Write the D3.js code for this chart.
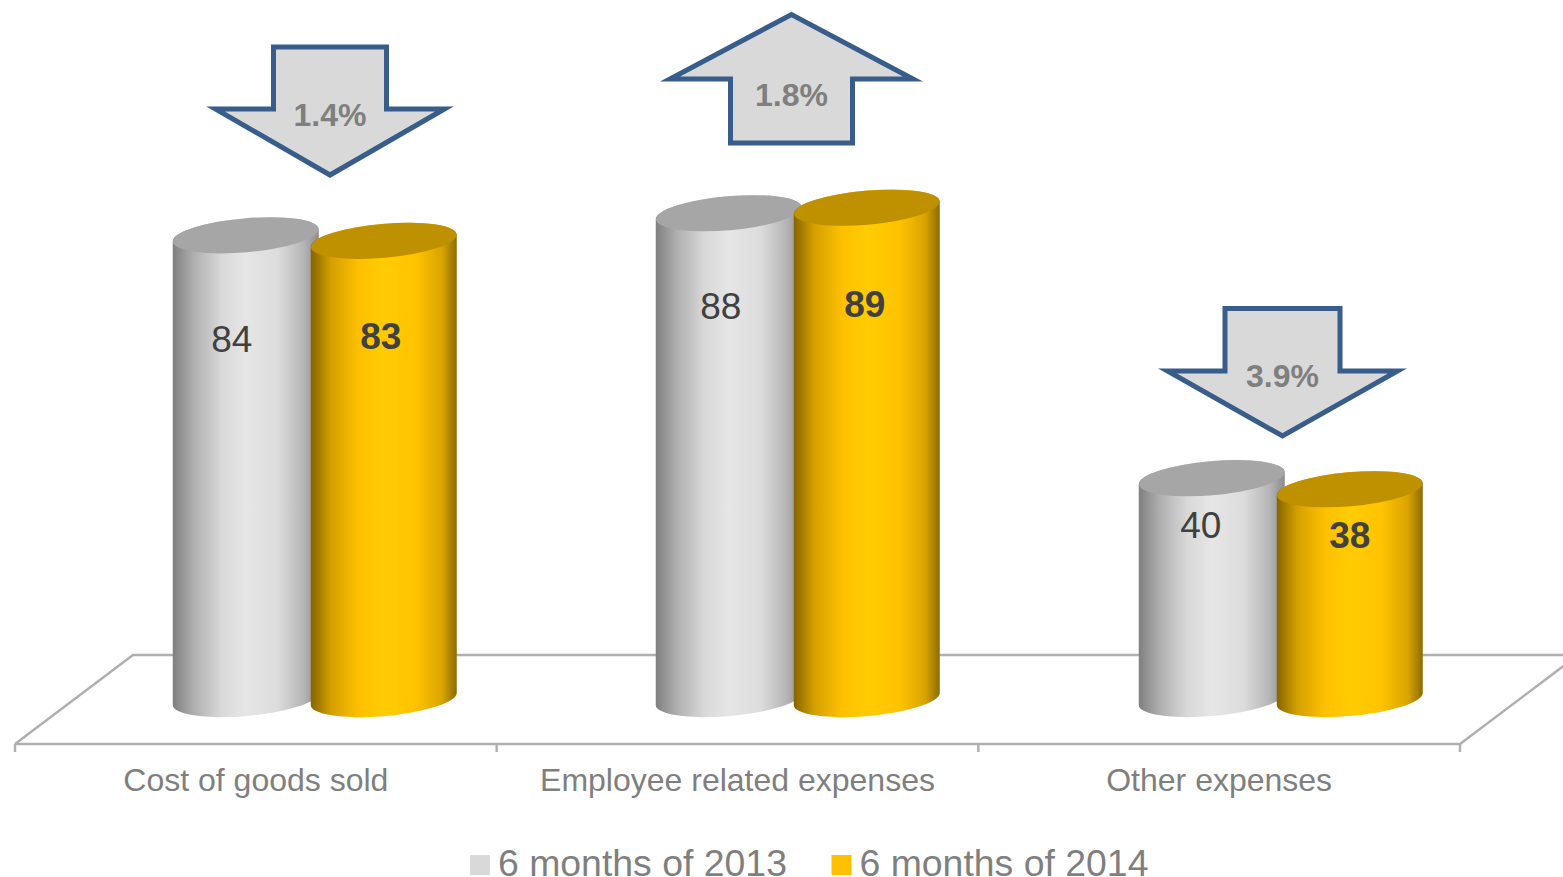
<!DOCTYPE html>
<html>
<head>
<meta charset="utf-8">
<style>
  html, body { margin: 0; padding: 0; background: #fff; overflow: hidden; }
  svg { display: block; font-family: "Liberation Sans", Arial, sans-serif; }
</style>
<script src="https://cdn.jsdelivr.net/npm/d3@7/dist/d3.min.js"></script>
</head>
<body>
<script>
// Expenses by category, first half of each year
const categories = ["Cost of goods sold", "Employee related expenses", "Other expenses"];
const seriesNames = ["6 months of 2013", "6 months of 2014"];
const values2013 = [84, 88, 40];
const values2014 = [83, 89, 38];
const changeLabels = ["1.4%", "1.8%", "3.9%"];
const changeDirections = ["down", "up", "down"];

const width = 1563, height = 877;
const svg = d3.select("body").append("svg").attr("width", width).attr("height", height);
const defs = svg.append("defs");

// Horizontal shading that gives each column its rounded look
const shading = [
  { id: "cyl2013", top: "#a6a6a6", stops: [[0, "#7f7f7f"], [.14, "#aeaeae"], [.33, "#d8d8d8"], [.5, "#e6e6e6"], [.72, "#dcdcdc"], [.9, "#b4b4b4"], [1, "#8c8c8c"]] },
  { id: "cyl2014", top: "#bf9000", stops: [[0, "#856500"], [.14, "#d4a000"], [.33, "#fec000"], [.5, "#ffcc00"], [.72, "#ffc300"], [.9, "#d9a400"], [1, "#8c6c00"]] }
];
shading.forEach(s => {
  const g = defs.append("linearGradient").attr("id", s.id).attr("x1", 0).attr("x2", 1).attr("y1", 0).attr("y2", 0);
  s.stops.forEach(([o, c]) => g.append("stop").attr("offset", o).attr("stop-color", c));
});

// Scales: the columns stand deeper in the plot than the floor's front edge
const x = d3.scaleBand().domain(categories).range([15, 1460]);
const xDeep = d3.scaleBand().domain(categories).range([73.25, 1522.25]);
const y = d3.scaleLinear().domain([0, 100]).range([699, 147]);

// Floor of the 3D plot
const floorColor = "#b0b0b0";
const floorBack = 655, floorFront = 744, depth = 118;
const floor = svg.append("g").attr("fill", "none").attr("stroke", floorColor).attr("stroke-width", 2.5);
floor.append("path").attr("d", d3.line()([
  [x.range()[0], floorFront],
  [x.range()[0] + depth, floorBack],
  [x.range()[1] + depth, floorBack],
  [x.range()[1], floorFront],
  [x.range()[0], floorFront]
]));
floor.selectAll("line").data(d3.range(categories.length + 1)).join("line")
  .attr("x1", i => x.range()[0] + i * x.step()).attr("x2", i => x.range()[0] + i * x.step())
  .attr("y1", floorFront).attr("y2", floorFront + 8);

// Category labels
const axis = svg.append("g").attr("transform", `translate(0,${floorFront})`)
  .call(d3.axisBottom(x).tickSize(0).tickPadding(24));
axis.select(".domain").remove();
axis.selectAll("text").attr("font-size", 32).attr("fill", "#7f7f7f")
  .attr("font-family", "Liberation Sans, Arial, sans-serif");

// Tilted ellipse shared by column caps and bases
const halfW = 73, capDrop = 6, rx = 73, ry = 17, tilt = -5;
const arc = (xTo, yTo, sweep) => `A${rx} ${ry} ${tilt} 0 ${sweep} ${xTo} ${yTo}`;
const sidePath = (cx, top, base) =>
  `M${cx - halfW} ${top + capDrop}L${cx - halfW} ${base + capDrop}` +
  arc(cx + halfW, base - capDrop, 0) +
  `L${cx + halfW} ${top - capDrop}` +
  arc(cx - halfW, top + capDrop, 0) + "Z";

const barGap = 69;
const labelShift = [[[-14, 104], [-3, 96]], [[-8, 93], [-2, 97]], [[-11, 47], [0, 46]]];
const series = [values2013, values2014];

categories.forEach((c, ci) => {
  const centre = xDeep(c) + xDeep.bandwidth() / 2;
  series.forEach((vals, si) => {
    const cx = centre + (si === 0 ? -barGap : barGap);
    const top = y(vals[ci]), base = y(0);
    const g = svg.append("g");
    g.append("path").attr("d", sidePath(cx, top, base)).attr("fill", `url(#${shading[si].id})`);
    g.append("ellipse").attr("rx", rx).attr("ry", ry)
      .attr("transform", `translate(${cx},${top}) rotate(${tilt})`)
      .attr("fill", shading[si].top);
    const [dx, dy] = labelShift[ci][si];
    g.append("text").attr("x", cx + dx).attr("y", top + dy)
      .attr("text-anchor", "middle").attr("dominant-baseline", "central")
      .attr("font-size", 37).attr("font-weight", si ? 700 : 400).attr("fill", "#404040")
      .text(vals[ci]);
  });
});

// Change arrows above each group
const arrowShapes = [
  { cx: 330, shaftHalf: 56.5, wingHalf: 114.5, shaftEnd: 47, shoulder: 109, tip: 175 },
  { cx: 791.5, shaftHalf: 61, wingHalf: 121.5, shaftEnd: 143, shoulder: 79, tip: 14.5 },
  { cx: 1282.5, shaftHalf: 57.5, wingHalf: 115, shaftEnd: 308.5, shoulder: 371, tip: 436 }
];
const labelY = [115, 95, 376];
arrowShapes.forEach((a, i) => {
  svg.append("path")
    .attr("d", d3.line()([
      [a.cx - a.shaftHalf, a.shaftEnd], [a.cx + a.shaftHalf, a.shaftEnd],
      [a.cx + a.shaftHalf, a.shoulder], [a.cx + a.wingHalf, a.shoulder],
      [a.cx, a.tip],
      [a.cx - a.wingHalf, a.shoulder], [a.cx - a.shaftHalf, a.shoulder]
    ]) + "Z")
    .attr("fill", "#d9d9d9").attr("stroke", "#385d8a").attr("stroke-width", 5)
    .attr("stroke-linejoin", "miter").attr("stroke-miterlimit", 10)
    .attr("data-direction", changeDirections[i]);
  svg.append("text").attr("x", a.cx).attr("y", labelY[i])
    .attr("text-anchor", "middle").attr("dominant-baseline", "central")
    .attr("font-size", 32).attr("font-weight", 700).attr("fill", "#7f7f7f")
    .text(changeLabels[i]);
});

// Legend
const legendColors = ["#d9d9d9", "#ffc000"];
const legendX = [470, 831.5];
const legend = svg.selectAll(".legend").data(seriesNames).join("g").attr("class", "legend")
  .attr("transform", (d, i) => `translate(${legendX[i]},855)`);
legend.append("rect").attr("width", 20).attr("height", 20).attr("fill", (d, i) => legendColors[i]);
legend.append("text").attr("x", 28).attr("y", 21).attr("font-size", 37.4).attr("fill", "#7f7f7f").text(d => d);
</script>
</body>
</html>
